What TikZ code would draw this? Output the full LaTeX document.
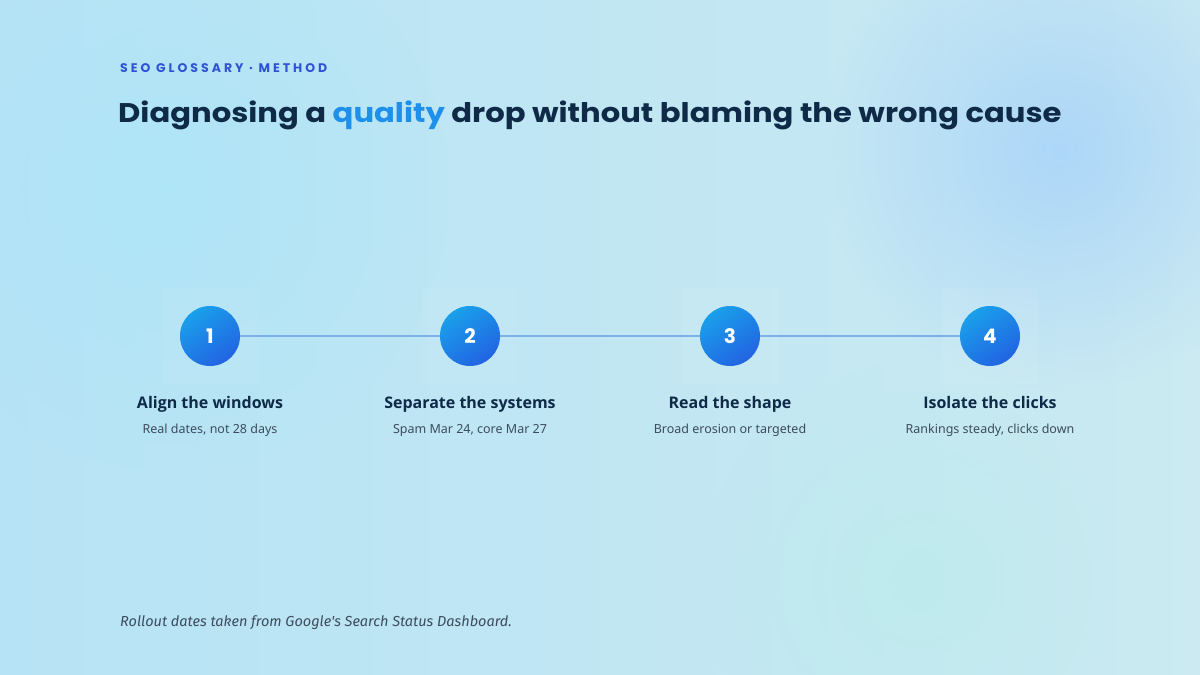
\documentclass[tikz,border=0pt]{standalone}
\usepackage{fontspec}
\setmainfont{Noto Sans}
\newfontfamily\titlefont{Poppins}
\newfontfamily\headfont{Open Sans}
\newfontfamily\eyebrowfont[LetterSpace=24]{Poppins}
\newfontfamily\notefont{Fira Sans}
\usetikzlibrary{positioning,fadings}

\definecolor{bgtop}{HTML}{B6E3F5}
\definecolor{bgbottom}{HTML}{CBEAF2}
\definecolor{glowcyan}{HTML}{A8E6FA}
\definecolor{glowblue}{HTML}{A6D2FA}
\definecolor{glowteal}{HTML}{B6EEE6}
\definecolor{inkdark}{HTML}{0E2A47}
\definecolor{inkgrey}{HTML}{3C4C5C}
\definecolor{accent}{HTML}{2E52D6}
\definecolor{quality}{HTML}{1E8FEA}
\definecolor{stepA}{HTML}{1AA0EA}
\definecolor{stepB}{HTML}{2263E2}
\definecolor{linkline}{HTML}{7DB0EA}

\tikzfading[name=softglow, inner color=transparent!0, outer color=transparent!100]

\tikzset{
  stepdot/.style={circle, minimum size=60pt, inner sep=0pt, shade,
    top color=stepA, bottom color=stepB, shading angle=35,
    text=white, font=\titlefont\bfseries\fontsize{20}{24}\selectfont},
  steptitle/.style={font=\headfont\bfseries\fontsize{16}{20}\selectfont, text=inkdark},
  stepnote/.style={font=\fontsize{12.5}{15}\selectfont, text=inkgrey},
  panel/.style={fill=white, fill opacity=0.06},
}

\begin{document}
\begin{tikzpicture}[x=1pt, y=-1pt]

%Dimensions
\def \largeur{1200}
\def \hauteur{675}
\def \ligne{336}
\def \pas{260}

%Fond
\useasboundingbox (0,0) rectangle (\largeur,\hauteur);
\shade[shading angle=135, left color=bgtop, right color=bgbottom] (0,0) rectangle (\largeur,\hauteur);
\fill[glowcyan, path fading=softglow, fill opacity=0.6] (170,190) circle (280);
\fill[glowblue, path fading=softglow, fill opacity=0.8] (1060,150) circle (240);
\fill[glowteal, path fading=softglow, fill opacity=0.45] (920,580) circle (220);

%En-tete
\node[anchor=base west, inner sep=0pt, text=accent,
  font=\eyebrowfont\bfseries\fontsize{12.5}{15}\selectfont] (eyebrow) at (120,72) {SEO GLOSSARY · METHOD};
\node[anchor=base west, inner sep=0pt, text=inkdark,
  font=\titlefont\bfseries\fontsize{27}{32}\selectfont] (title) at (118,122)
  {\scalebox{1.135}[1]{Diagnosing a \textcolor{quality}{quality} drop without blaming the wrong cause}};

%Etapes
\foreach \i in {1,...,4}
  \fill[panel] (210+\pas*\i-\pas-48,\ligne-48) rectangle ++(96,96);
\foreach \i/\titre/\note in {1/Align the windows/{Real dates, not 28 days},
                             2/Separate the systems/{Spam Mar 24, core Mar 27},
                             3/Read the shape/Broad erosion or targeted,
                             4/Isolate the clicks/{Rankings steady, clicks down}} {
  \node[stepdot] (s\i) at (210+\pas*\i-\pas,\ligne) {\i};
  \node[steptitle, anchor=base] (t\i) at (210+\pas*\i-\pas,408) {\titre};
  \node[stepnote, anchor=base] (n\i) at (210+\pas*\i-\pas,433) {\note};
}

%Liaisons
\foreach \a/\b in {1/2,2/3,3/4}
  \draw[linkline, line width=2.2pt] (s\a.east) -- (s\b.west);

%Source
\node[anchor=base west, inner sep=0pt, text=inkgrey,
  font=\notefont\itshape\fontsize{14.5}{17}\selectfont] (source) at (120,626)
  {Rollout dates taken from Google's Search Status Dashboard.};

\end{tikzpicture}
\end{document}
